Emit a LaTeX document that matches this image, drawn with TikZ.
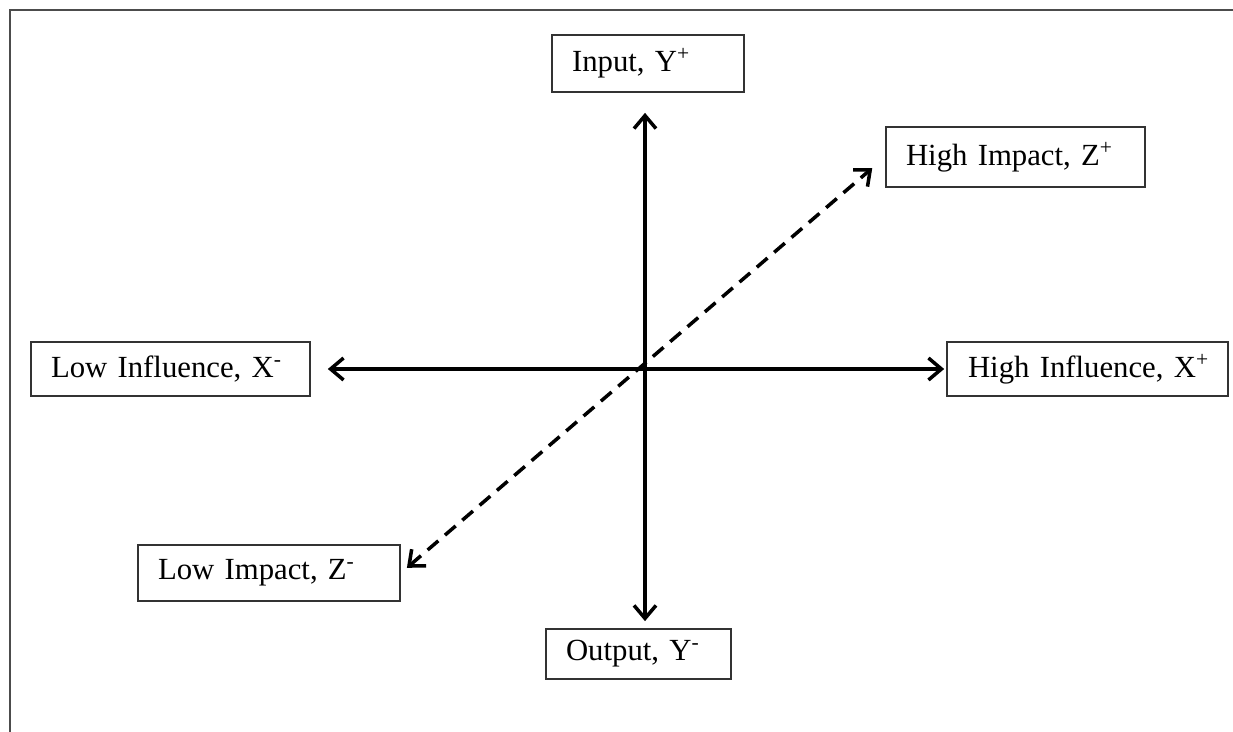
\documentclass[tikz,border=0pt]{standalone}
\usepackage{fontspec}
\setmainfont{Liberation Serif}
\usetikzlibrary{arrows.meta,positioning}

\begin{document}
\begin{tikzpicture}[x=0.02cm, y=-0.02cm,
  axisbox/.style={draw=black!80, line width=1pt, align=left, inner xsep=0.4cm,
                  inner ysep=0pt, font=\fontsize{17.5}{20}\selectfont},
  axis/.style={{Straight Barb[length=2.6mm, width=4.4mm]}-{Straight Barb[length=2.6mm, width=4.4mm]},
               line width=2pt},
  zaxis/.style={axis, dash pattern=on 8pt off 5pt},
  frame/.style={draw=black!70, line width=1pt}]
\useasboundingbox (0,0) rectangle (1233,732);
\draw[frame] (10,732) -- (10,10) -- (1233,10);
\coordinate (o) at (645,368);
\node[axisbox, text width=3.04cm, minimum height=1.14cm] (input) at (648,63.5) {Input, Y\textsuperscript{+}};
\node[axisbox, text width=2.9cm, minimum height=1.0cm] (output) at (638.5,654) {Output, Y\textsuperscript{-}};
\node[axisbox, text width=4.78cm, minimum height=1.08cm] (lowinf) at (170.5,369) {Low Influence, X\textsuperscript{-}};
\node[axisbox, text width=4.98cm, inner xsep=0.32cm, minimum height=1.08cm] (highinf) at (1087.5,369) {\hspace*{0.1cm}High Influence, X\textsuperscript{+}};
\node[axisbox, text width=4.38cm, minimum height=1.2cm] (highimp) at (1015.5,157) {High Impact, Z\textsuperscript{+}};
\node[axisbox, text width=4.44cm, minimum height=1.12cm] (lowimp) at (269,573) {Low Impact, Z\textsuperscript{-}};
% the three axes
\draw[axis, shorten <=0.4cm, shorten >=0.14cm] (input.south -| o) -- (output.north -| o);
\draw[axis, shorten <=0.34cm, shorten >=0.04cm] (lowinf) -- (highinf);
\draw[zaxis, shorten <=0.16cm, shorten >=0.34cm] (lowimp.east) -- (highimp.west);
\end{tikzpicture}
\end{document}
